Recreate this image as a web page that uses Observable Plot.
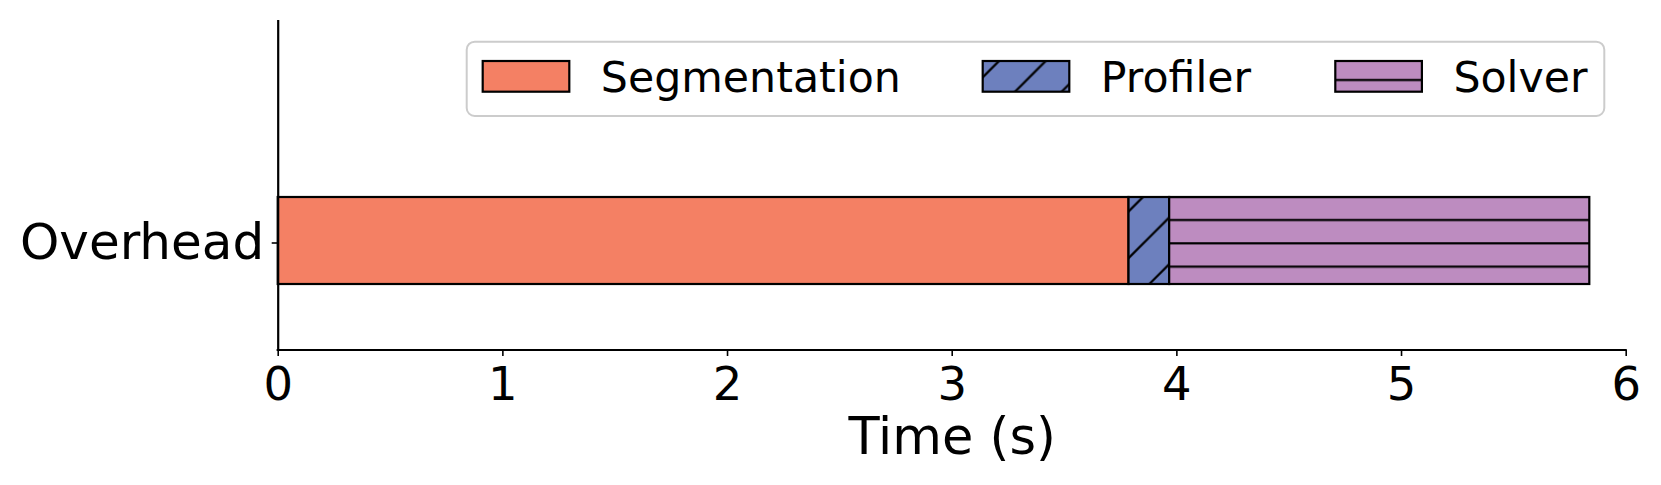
<!DOCTYPE html>
<html><head><meta charset="utf-8">
<script src="https://cdn.jsdelivr.net/npm/d3@7"></script>
<script src="https://cdn.jsdelivr.net/npm/@observablehq/plot@0.6"></script>
<style>
html,body{margin:0;padding:0;background:#fff;}
#chart svg{display:block;}
</style></head><body><div id="chart"></div>
<script>
// ---- data ----
const categories = ["Overhead"];
const components = ["Segmentation", "Profiler", "Solver"];
const durations = [3.787, 0.181, 1.870];
const xTicks = [0, 1, 2, 3, 4, 5, 6];
const xLabel = "Time (s)";

// ---- styles ----
const fills = {Segmentation: "#f48064", Profiler: "#6d80be", Solver: "#bd8cc0"};
const hatches = {Segmentation: null, Profiler: "/", Solver: "-"};

const data = components.map((c, i) => ({category: categories[0], component: c, duration: durations[i]}));

const W = 1661, H = 485, mL = 277.7, mR = 35.3, mT = 20, mB = 135;
const paintFor = c => hatches[c] ? `url(#hatch-${c})` : fills[c];

const chart = Plot.plot({
  width: W, height: H,
  marginLeft: mL, marginRight: mR, marginTop: mT, marginBottom: mB,
  style: {fontFamily: "'DejaVu Sans', sans-serif", background: "white", color: "black"},
  x: {domain: d3.extent(xTicks)},
  y: {domain: categories, paddingInner: 0, paddingOuter: 1.39, align: 0.728},
  color: {type: "identity"},
  marks: [
    Plot.barX(data, Plot.stackX({x: "duration", y: "category", fill: d => paintFor(d.component), stroke: "black", strokeWidth: 2.2})),
    Plot.ruleX([0], {stroke: "black", strokeWidth: 2.2}),
    Plot.axisX({ticks: xTicks, tickSize: 6, tickPadding: 10, fontSize: 46.5, strokeWidth: 1.6, label: null, tickFormat: d => String(d)}),
    Plot.axisY({tickSize: 6, tickPadding: 8, fontSize: 50, strokeWidth: 1.6, label: null, dy: 2}),
    Plot.text([xLabel], {text: d => d, frameAnchor: "bottom", lineAnchor: "bottom", dy: 103.3, fontSize: 51})
  ]
});

document.getElementById("chart").appendChild(chart);

// ---- hatch patterns (aligned to page space, like matplotlib) ----
const svg = d3.select(chart);
const defs = svg.insert("defs", ":first-child");
const P = 140 / 3, off = 100 / 3;
const pr = defs.append("pattern").attr("id", "hatch-Profiler").attr("patternUnits", "userSpaceOnUse")
  .attr("width", P).attr("height", P);
pr.append("rect").attr("width", P).attr("height", P).attr("fill", fills.Profiler);
pr.append("path").attr("d", `M${-2},${off + 2}L${off + 2},${-2}M${off - 2},${P + 2}L${P + 2},${off - 2}`)
  .attr("stroke", "black").attr("stroke-width", 2.2).attr("fill", "none");
const Q = 70 / 3;
const ps = defs.append("pattern").attr("id", "hatch-Solver").attr("patternUnits", "userSpaceOnUse")
  .attr("width", 20).attr("height", Q);
ps.append("rect").attr("width", 20).attr("height", Q).attr("fill", fills.Solver);
ps.append("path").attr("d", "M-1,10H21").attr("stroke", "black").attr("stroke-width", 2.2);

// ---- bottom spine ----
const xs = chart.scale("x");
svg.append("line")
  .attr("x1", xs.apply(xTicks[0])).attr("x2", xs.apply(xTicks[xTicks.length - 1]))
  .attr("y1", H - mB).attr("y2", H - mB)
  .attr("stroke", "black").attr("stroke-width", 2.2).attr("stroke-linecap", "square");

// ---- legend (inside axes, upper right) ----
const lg = svg.append("g").attr("font-family", "'DejaVu Sans', sans-serif").attr("text-anchor", "start");
lg.append("rect").attr("x", 466.7).attr("y", 41.7).attr("width", 1137.6).attr("height", 74.3).attr("rx", 8)
  .attr("fill", "white").attr("fill-opacity", 0.8).attr("stroke", "#cccccc").attr("stroke-width", 2);
const itemX = [482.7, 982.7, 1335.3];
components.forEach((c, i) => {
  lg.append("rect").attr("x", itemX[i]).attr("y", 61).attr("width", 86.6).attr("height", 30.7)
    .attr("fill", paintFor(c)).attr("stroke", "black").attr("stroke-width", 2.2);
  lg.append("text").attr("x", itemX[i] + 86.6 + 31.5).attr("y", 91.7).attr("font-size", 42.7)
    .attr("text-anchor", "start").attr("fill", "black").text(c);
});
</script>
</body></html>
